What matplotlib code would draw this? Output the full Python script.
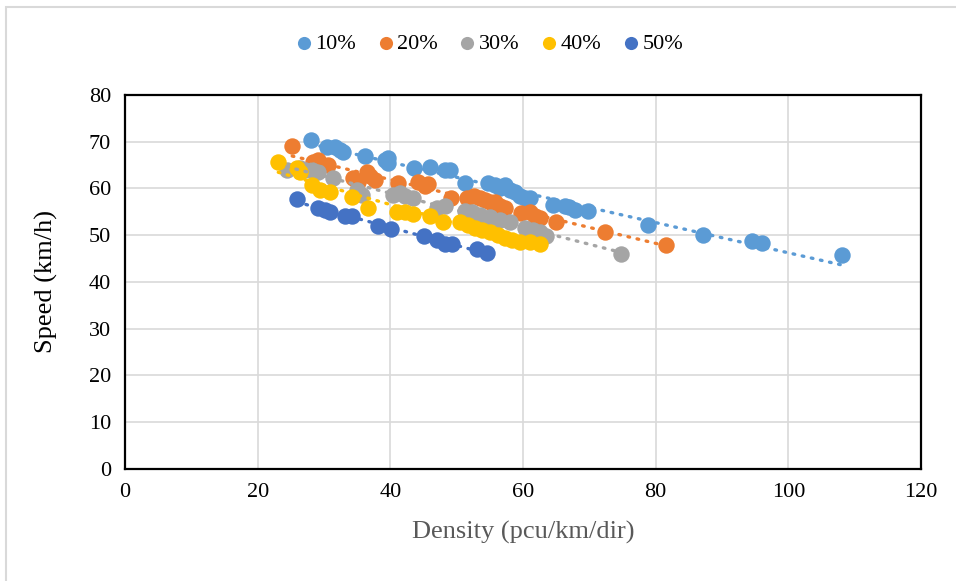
import numpy as np
import matplotlib.pyplot as plt
from matplotlib.patches import Rectangle

plt.rcParams['font.family'] = ['Liberation Serif', 'DejaVu Serif']

labels = ['10%', '20%', '30%', '40%', '50%']
colors = ['#5B9BD5', '#ED7D31', '#A5A5A5', '#FFC000', '#4472C4']

d10 = [28.0, 30.5, 31.7, 32.4, 32.8, 36.2, 39.2, 39.6, 39.6, 43.6, 46.0, 48.2, 49.0,
       51.3, 54.7, 55.8, 56.5, 57.3, 58.0, 58.8, 59.6, 60.3, 61.1, 64.5, 66.3, 67.0,
       67.8, 69.8, 78.8, 87.1, 94.5, 96.0, 108.1]
s10 = [70.3, 68.9, 68.9, 68.2, 67.8, 67.0, 66.1, 66.5, 65.5, 64.4, 64.6, 64.0, 64.0,
       61.2, 61.2, 60.7, 60.1, 60.7, 59.7, 59.2, 58.4, 58.0, 58.0, 56.5, 56.3, 56.0,
       55.4, 55.2, 52.2, 50.1, 48.8, 48.3, 45.8]

d20 = [25.2, 28.3, 29.1, 29.9, 30.6, 34.4, 35.1, 36.5, 36.9, 37.7, 41.2, 44.2, 45.2,
       45.7, 49.1, 51.6, 52.6, 53.5, 54.3, 55.0, 55.8, 56.5, 57.3, 59.7, 61.1, 61.8,
       62.6, 65.0, 72.4, 81.6]
s20 = [69.1, 65.7, 66.1, 65.0, 65.0, 62.2, 61.4, 63.5, 62.7, 61.8, 61.2, 61.4, 60.5,
       61.0, 58.0, 58.0, 58.4, 58.0, 57.5, 57.1, 57.1, 56.3, 55.8, 54.8, 55.0, 54.1,
       53.7, 52.8, 50.7, 47.9]

d30 = [24.4, 26.4, 27.1, 28.2, 29.1, 31.4, 35.0, 35.7, 40.4, 41.5, 42.2, 43.4, 47.0,
       48.2, 51.3, 52.3, 53.5, 55.0, 56.5, 58.0, 60.3, 61.5, 62.6, 63.5, 74.8]
s30 = [64.0, 64.4, 64.0, 64.0, 63.5, 62.2, 59.7, 58.6, 58.6, 59.0, 58.4, 58.0, 55.8,
       56.3, 55.2, 55.0, 54.3, 53.9, 53.3, 52.8, 51.6, 51.1, 50.7, 49.8, 46.0]

d40 = [23.1, 25.9, 26.4, 28.2, 29.4, 30.9, 34.2, 36.6, 41.0, 42.2, 43.4, 46.0, 47.9,
       50.5, 51.7, 52.8, 53.8, 55.0, 56.2, 57.3, 58.3, 59.6, 61.1, 62.6]
s40 = [65.7, 64.4, 63.5, 60.7, 59.7, 59.2, 58.2, 55.8, 55.0, 55.0, 54.5, 54.1, 52.8,
       52.8, 52.2, 51.6, 51.1, 50.7, 50.0, 49.4, 49.0, 48.6, 48.6, 48.1]

d50 = [25.9, 29.1, 30.2, 30.9, 33.2, 34.2, 38.1, 40.1, 45.1, 47.0, 48.2, 49.3, 53.1, 54.6]
s50 = [57.8, 55.8, 55.4, 55.0, 54.1, 54.1, 52.0, 51.3, 49.8, 49.0, 48.1, 48.1, 47.1, 46.2]

series = [(d10, s10), (d20, s20), (d30, s30), (d40, s40), (d50, s50)]

fig = plt.figure(figsize=(9.56, 5.81), dpi=100)
ax = fig.add_axes([0.1308, 0.1928, 0.8326, 0.6437])

for (x, y), c, lab in zip(series, colors, labels):
    x = np.array(x)
    y = np.array(y)
    ax.scatter(x, y, s=140, color=c, label=lab, zorder=3, linewidths=0)
    # linear trendline
    k, b = np.polyfit(x, y, 1)
    xt = np.array([x.min(), x.max()])
    ax.plot(xt, k * xt + b, color=c, lw=2.4, linestyle=(0, (0.5, 2.3)),
            dash_capstyle='round', zorder=4)

ax.set_xlim(0, 120)
ax.set_ylim(0, 80)
ax.set_xticks(range(0, 121, 20))
ax.set_yticks(range(0, 81, 10))
ax.grid(True, color='#D9D9D9', lw=1.2)
ax.set_axisbelow(True)
ax.tick_params(length=0, labelsize=16, pad=10)
for sp in ax.spines.values():
    sp.set_color('black')
    sp.set_linewidth(1.6)

ax.set_xlabel('Density (pcu/km/dir)', fontsize=19, color='#595959', labelpad=14)
ax.set_ylabel('Speed (km/h)', fontsize=19, color='black', labelpad=22)

fig.legend(loc='center', bbox_to_anchor=(0.512, 0.925), ncol=5, frameon=False,
           fontsize=16, handlelength=0.7, handletextpad=0.15, columnspacing=1.0,
           markerscale=0.8)

fig.patches.append(Rectangle((0.006, -0.01), 1.1, 0.998, transform=fig.transFigure,
                             fill=False, edgecolor='#D9D9D9', lw=1.5))

fig.savefig('out.png', dpi=100)
